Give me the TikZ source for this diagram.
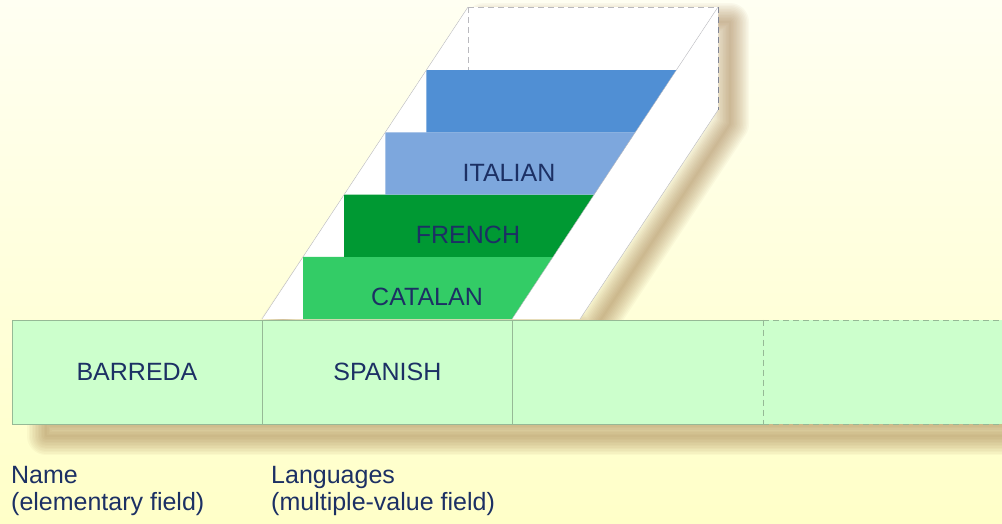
\documentclass[tikz,border=0pt]{standalone}
\usepackage{fontspec}
\setmainfont{Liberation Sans}
\usepackage{tikz}
\usetikzlibrary{positioning}

\definecolor{bgtop}{RGB}{255,255,242}
\definecolor{bgbot}{RGB}{255,255,200}
\definecolor{cellfill}{RGB}{204,255,204}
\definecolor{cellline}{RGB}{150,185,150}
\definecolor{boxline}{RGB}{185,185,190}
\definecolor{edgeline}{RGB}{130,135,150}
\definecolor{ink}{RGB}{28,48,100}
\definecolor{catalan}{RGB}{51,204,102}
\definecolor{french}{RGB}{0,153,51}
\definecolor{italian}{RGB}{125,167,221}
\definecolor{topblue}{RGB}{80,143,212}
\definecolor{shadow}{RGB}{150,105,55}

\begin{document}
\begin{tikzpicture}[x=1pt,y=-1pt]
        \tikzstyle{every node}=[font=\fontsize{25}{27}\selectfont, text=ink];
        \tikzstyle{cell}=[fill=cellfill, minimum width=250pt, minimum height=104pt, inner sep=0pt];
        \tikzstyle{fieldtext}=[anchor=base west, inner sep=0pt];
        \tikzstyle{blur}=[shadow, opacity=0.045, line join=round];
        \tikzstyle{longdash}=[dash pattern=on 6pt off 4pt];
        \shade[top color=bgtop, bottom color=bgbot] (0,0) rectangle (1002,523);
        \useasboundingbox (0,0) rectangle (1002,523);
        \foreach \w in {2,5,...,38} {
            \draw[blur, line width=\w pt] (46,424) rectangle (1030,436);
            \draw[blur, line width=\w pt] (484,22) -- (730,22) -- (730,124) -- (594,330) -- (276,330) -- cycle;
        }
        \fill[white] (262,319) -- (468,7) -- (718,7) -- (718,110) -- (580,319) -- cycle;
        \foreach \col [count=\k from 0] in {catalan, french, italian, topblue}
            \fill[\col] (262+41.1*\k+41.1, 319-62.25*\k) -- ++(0,-62.25)
                -- (512+41.1*\k+41.1, 319-62.25*\k-62.25) -- (512+41.1*\k, 319-62.25*\k) -- cycle;
        \foreach \txt [count=\k from 0] in {CATALAN, FRENCH, ITALIAN}
            \node (lang\k) at (427+41*\k, 297-62.25*\k) {\txt};
        \draw[boxline] (262,319) -- (468,7);
        \draw[boxline, longdash] (468,7) -- (718,7);
        \draw[boxline, longdash] (468,7) -- (468,70);
        \draw[boxline] (718,7) -- (512,319);
        \draw[edgeline, longdash] (718,7) -- (718,110);
        \draw[boxline] (718,110) -- (580,319);
        \node[cell] (barreda) at (137,372) {BARREDA};
        \node[cell, right=0pt of barreda] (spanish) {SPANISH};
        \node[cell, right=0pt of spanish] (third) {};
        \node[cell, right=0pt of third] (more) {};
        \draw[cellline] (more.north west) -- (barreda.north west) -- (barreda.south west) -- (more.south west);
        \draw[cellline] (barreda.north east) -- (barreda.south east);
        \draw[cellline] (spanish.north east) -- (spanish.south east);
        \draw[cellline, longdash] (more.north west) -- (more.north east);
        \draw[cellline, longdash] (more.south west) -- (more.south east);
        \draw[cellline, longdash] (more.north west) -- (more.south west);
        \node[fieldtext] (name) at (11,483) {Name};
        \node[fieldtext] (namekind) at (11,510) {(elementary field)};
        \node[fieldtext] (languages) at (271,483) {Languages};
        \node[fieldtext] (languageskind) at (271,510) {(multiple-value field)};
\end{tikzpicture}
\end{document}
